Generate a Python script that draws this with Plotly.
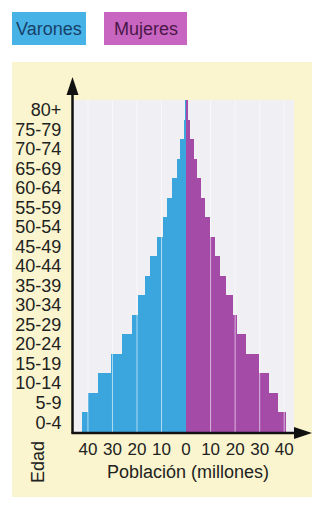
import plotly.graph_objects as go

edades = ["0-4", "5-9", "10-14", "15-19", "20-24", "25-29", "30-34", "35-39",
          "40-44", "45-49", "50-54", "55-59", "60-64", "65-69", "70-74", "75-79", "80+"]
varones = [42.6, 39.9, 35.8, 30.4, 26.3, 22.2, 19.4, 16.7, 14.7, 11.9, 9.6, 7.8, 5.8, 3.7, 2.4, 1.0, 0.4]
mujeres = [40.7, 37.3, 33.8, 29.7, 24.3, 20.9, 19.2, 16.1, 14.0, 11.7, 9.9, 7.9, 6.1, 4.5, 3.1, 1.7, 0.5]
tick_vals = [-40, -30, -20, -10, 0, 10, 20, 30, 40]
tick_text = ["40", "30", "20", "10", "0", "10", "20", "30", "40"]
grid_vals = [-40, -30, -20, -10, 10, 20, 30, 40]

W, H = 322, 505
def px(x): return x / W
def py(y): return 1 - y / H

BLUE = "#3BA6DE"
PURPLE = "#A44BA7"
FONT = "Liberation Sans, Arial, sans-serif"
TXT = "#222222"

fig = go.Figure()
fig.add_trace(go.Bar(y=edades, x=[-v for v in varones], orientation="h",
                     marker=dict(color=BLUE, line=dict(width=0)), name="Varones"))
fig.add_trace(go.Bar(y=edades, x=mujeres, orientation="h",
                     marker=dict(color=PURPLE, line=dict(width=0)), name="Mujeres"))

shapes = []
shapes.append(dict(type="rect", xref="paper", yref="paper", x0=px(12), x1=px(312),
                   y0=py(497), y1=py(62), fillcolor="#FAF5CE", line=dict(width=0), layer="below"))
shapes.append(dict(type="rect", xref="paper", yref="paper", x0=px(72), x1=px(294),
                   y0=py(432), y1=py(100), fillcolor="#EFEFF4", line=dict(width=0), layer="below"))
for g in grid_vals:
    shapes.append(dict(type="line", xref="x", yref="paper", x0=g, x1=g, y0=py(432), y1=py(100),
                       line=dict(color="rgba(255,255,255,0.6)", width=1), layer="above"))
shapes.append(dict(type="line", xref="paper", yref="paper", x0=px(72.5), x1=px(72.5),
                   y0=py(433.5), y1=py(90), line=dict(color="#111", width=2.5)))
shapes.append(dict(type="line", xref="paper", yref="paper", x0=px(71.5), x1=px(297),
                   y0=py(433), y1=py(433), line=dict(color="#111", width=2.5)))
shapes.append(dict(type="path", xref="paper", yref="paper",
                   path=f"M {px(72.5)} {py(77)} L {px(66.5)} {py(95)} L {px(78.5)} {py(95)} Z",
                   fillcolor="#111", line=dict(width=0)))
shapes.append(dict(type="path", xref="paper", yref="paper",
                   path=f"M {px(312)} {py(433)} L {px(294)} {py(427)} L {px(294)} {py(439)} Z",
                   fillcolor="#111", line=dict(width=0)))
shapes.append(dict(type="rect", xref="paper", yref="paper", x0=px(12), x1=px(86),
                   y0=py(45), y1=py(12), fillcolor="#47B2E6", line=dict(width=0)))
shapes.append(dict(type="rect", xref="paper", yref="paper", x0=px(104), x1=px(187),
                   y0=py(45), y1=py(12), fillcolor="#C865C0", line=dict(width=0)))

def ann(text, x, y, color=TXT, angle=0, size=18):
    return dict(text=text, x=px(x), y=py(y), xref="paper", yref="paper", showarrow=False,
                xanchor="center", yanchor="middle", textangle=angle,
                font=dict(family=FONT, size=size, color=color))

annotations = [
    ann("Varones", 49, 29, "#17416A"),
    ann("Mujeres", 145.5, 29, "#4A1848"),
    ann("Edad", 38, 462, angle=-90),
    ann("Población (millones)", 188, 472),
]

fig.update_layout(
    width=W, height=H, margin=dict(l=0, r=0, t=0, b=0),
    paper_bgcolor="white", plot_bgcolor="rgba(0,0,0,0)",
    barmode="relative", bargap=0, showlegend=False,
    shapes=shapes, annotations=annotations,
    xaxis=dict(domain=[px(72), px(294)], range=[-46.5, 44.0], tickmode="array",
               tickvals=tick_vals, ticktext=tick_text, showgrid=False, zeroline=False,
               showline=False, ticks="outside", ticklen=2, tickcolor="rgba(0,0,0,0)",
               tickfont=dict(family=FONT, size=17, color=TXT), fixedrange=True),
    yaxis=dict(domain=[py(432), py(100)], categoryorder="array", categoryarray=edades,
               tickmode="array", tickvals=edades, ticktext=edades,
               range=[-0.5, 16.5], showgrid=False, zeroline=False, showline=False,
               ticks="outside", ticklen=6, tickcolor="rgba(0,0,0,0)",
               tickfont=dict(family=FONT, size=18, color=TXT), fixedrange=True),
)

fig.write_html("out.html")
